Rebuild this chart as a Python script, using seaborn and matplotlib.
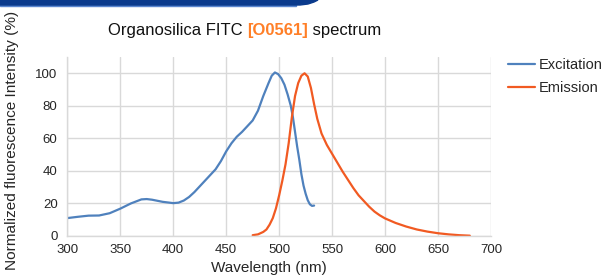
"""Organosilica FITC [O0561] excitation / emission spectrum."""

import matplotlib

matplotlib.use("Agg")
import matplotlib.pyplot as plt
import pandas as pd
import seaborn as sns
from matplotlib.patches import Polygon, Rectangle

# Excitation spectrum (wavelength nm, normalized %)
ex_wl = [300, 310, 320, 330, 340, 350, 360, 370, 375, 380, 390, 400, 405,
         410, 415, 420, 425, 430, 435, 440, 445, 450, 455, 460, 465, 470,
         475, 480, 485, 490, 493, 496, 499, 502, 505, 508, 511, 513, 515,
         517, 519, 521, 523, 525, 527, 529, 531, 533]
ex_val = [11, 11.8, 12.5, 12.6, 14, 16.8, 20, 22.5, 22.7, 22.3, 21, 20.2,
          20.5, 21.8, 24, 27, 30.5, 34, 37.5, 41, 46, 52, 57, 61, 64, 67.5,
          71, 77, 86, 94, 98.5, 100.5, 99.5, 97, 93, 87, 80, 73, 64, 55, 47,
          38, 31, 26, 22, 19.5, 18.5, 18.7]

# Emission spectrum
em_wl = [475, 480, 485, 488, 491, 494, 497, 500, 503, 506, 509, 512, 515,
         518, 521, 524, 527, 530, 533, 536, 540, 545, 550, 555, 560, 565,
         570, 575, 580, 585, 590, 595, 600, 610, 620, 630, 640, 650, 660,
         670, 680]
em_val = [0.5, 1, 2.5, 4, 7, 11, 17, 25, 34, 44, 57, 73, 86, 94, 98.5, 100,
          98, 91, 81, 72, 63, 56, 50.5, 45, 39.5, 34.5, 29.5, 25, 21.5, 18,
          15, 12.7, 10.8, 8, 5.8, 4, 2.7, 1.7, 1, 0.5, 0.2]

SERIES = ["Excitation", "Emission"]
COLORS = {"Excitation": "#4F81BD", "Emission": "#F15A22"}
X_TICKS = [300, 350, 400, 450, 500, 550, 600, 650, 700]
Y_TICKS = [0, 20, 40, 60, 80, 100]

df = pd.concat([
    pd.DataFrame({"wl": ex_wl, "val": ex_val, "series": "Excitation"}),
    pd.DataFrame({"wl": em_wl, "val": em_val, "series": "Emission"}),
], ignore_index=True)

sns.set_theme(style="whitegrid")
plt.rcParams["font.family"] = ["Liberation Sans", "DejaVu Sans"]

W, H = 603, 276
fig = plt.figure(figsize=(W / 100, H / 100), dpi=100)
ax = fig.add_axes([67.3 / W, 1 - 236 / H, (491 - 67.3) / W, (236 - 57) / H])

sns.lineplot(data=df, x="wl", y="val", hue="series", hue_order=SERIES,
             palette=COLORS, sort=False, estimator=None, linewidth=1.6, ax=ax)

ax.set_xlim(300, 700)
ax.set_ylim(0, 110)
ax.set_xticks(X_TICKS)
ax.set_yticks(Y_TICKS)
ax.grid(True, color="#d9d9d9", linewidth=1)
ax.set_facecolor("white")
for side in ["top", "right"]:
    ax.spines[side].set_visible(False)
for side in ["left", "bottom"]:
    ax.spines[side].set_color("#d9d9d9")
    ax.spines[side].set_linewidth(1)
ax.tick_params(axis="both", length=0, labelsize=9.5, labelcolor="#262626")
ax.tick_params(axis="y", pad=7)
ax.tick_params(axis="x", pad=6)

ax.set_xlabel("")
ax.set_ylabel("")
fig.text(268.5 / W, 1 - 268 / H, "Wavelength (nm)", ha="center", va="center",
         fontsize=11, color="#262626")
# reference crops this label at the edges; keep it just inside the canvas
fig.text(12 / W, 1 - 140 / H, "Normalized fluorescence Intensity (%)",
         rotation=90, ha="center", va="center", fontsize=11.1, color="#262626")

handles, labels = ax.get_legend_handles_labels()
ax.legend(handles, labels, loc="upper left",
          bbox_to_anchor=(508 / W, 1 - 58 / H),
          bbox_transform=fig.transFigure, frameon=False, fontsize=10.5,
          handlelength=1.85, handletextpad=0.28, labelspacing=0.62,
          borderpad=0, borderaxespad=0)

# multicolour title
parts = [("Organosilica FITC ", "#111111", "normal"),
         ("[O0561]", "#FF7F27", "bold"),
         (" spectrum", "#111111", "normal")]
renderer = fig.canvas.get_renderer()
x = 108
for txt, col, wt in parts:
    t = fig.text(x / W, 1 - 30 / H, txt, color=col, fontweight=wt,
                 fontsize=12, ha="left", va="center")
    x += t.get_window_extent(renderer).width

# header banner cut off at top
fig.patches.append(Rectangle((0, 1 - 6 / H), 296 / W, 6 / H,
                             transform=fig.transFigure, color="#5A86CF",
                             zorder=0))
banner = [(0, H), (318, H), (314, H - 2), (308, H - 4), (300, H - 5),
          (0, H - 5)]
fig.patches.append(Polygon([(px / W, py / H) for px, py in banner],
                           closed=True, transform=fig.transFigure,
                           color="#0A3A8C", zorder=1))

fig.savefig("out.png", dpi=100)
plt.close(fig)
